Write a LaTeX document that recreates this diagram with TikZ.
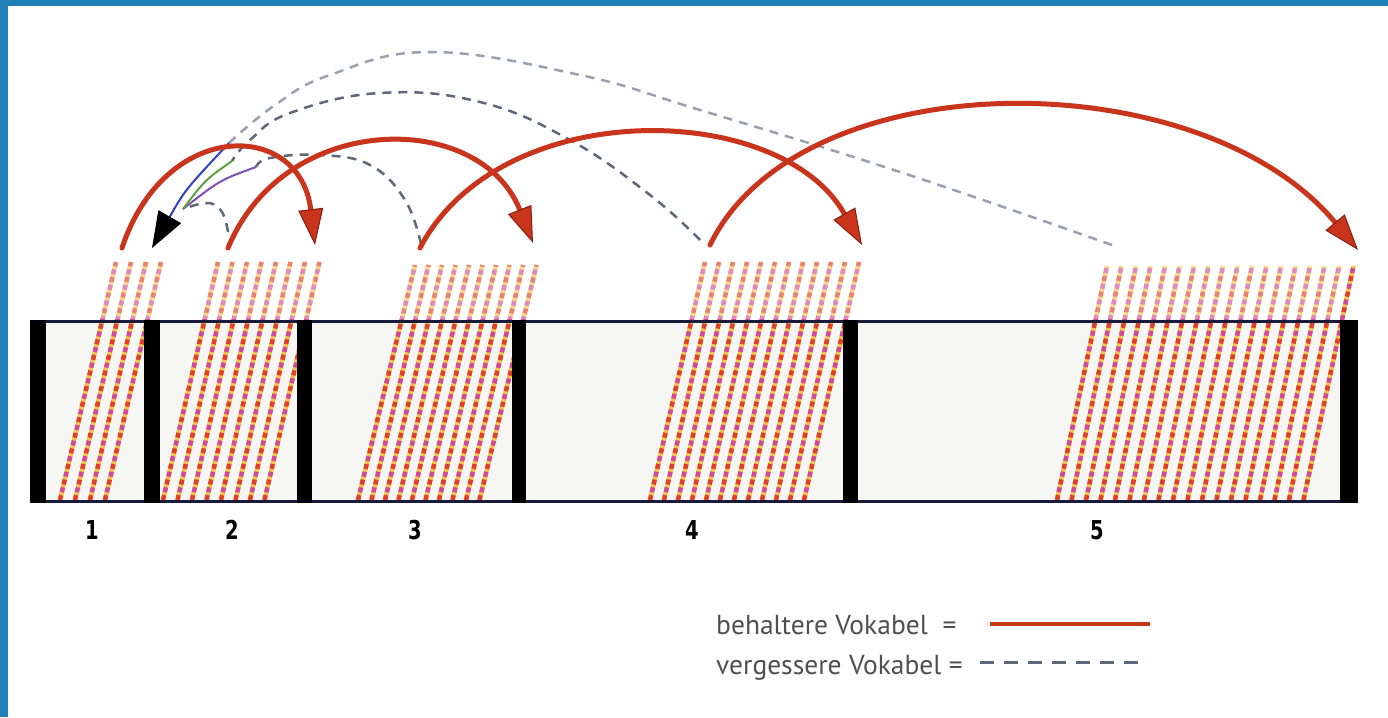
\documentclass[tikz,border=0pt]{standalone}
\usepackage{fontspec}
\setmainfont{PT Sans}
\newfontfamily\numfont{DejaVu Sans}[FakeStretch=0.75]
\usetikzlibrary{arrows.meta}
\definecolor{frameblue}{HTML}{1F80B8}
\definecolor{arrowred}{HTML}{C8341C}
\definecolor{arrowdark}{HTML}{8A2010}
\definecolor{hatchred}{HTML}{E0402A}
\definecolor{hatchmag}{HTML}{D24A96}
\definecolor{hatchyel}{HTML}{F3C44A}
\definecolor{dashgray}{HTML}{5E6878}
\definecolor{dashlight}{HTML}{9AA0AE}
\definecolor{boxline}{HTML}{1A1A3A}
\definecolor{boxfill}{HTML}{F6F6F4}
\definecolor{legtext}{HTML}{505050}
\definecolor{lineblue}{HTML}{3040C0}
\definecolor{linegreen}{HTML}{5FA040}
\definecolor{linepurple}{HTML}{8050B0}

\newcommand\hatchgroup[5]{%
  \foreach \i in {1,...,#3}{%
    \pgfmathsetmacro\xb{#1+(\i-1)*#2}%
    \draw[hy] (\xb,500) -- (\xb+#5,#4);
    \draw[hr] (\xb,500) -- (\xb+#5,#4);
    \draw[hm] (\xb,500) -- (\xb+#5,#4);
  }}

\begin{document}
\begin{tikzpicture}[x=1pt,y=-1pt,
  hy/.style={draw=hatchyel,line width=4.5pt},
  hr/.style={draw=hatchred,line width=4.5pt,dash pattern=on 5pt off 11pt},
  hm/.style={draw=hatchmag,line width=4.5pt,dash pattern=on 5pt off 11pt,dash phase=8pt},
  divider/.style={fill=black},
  boxedge/.style={draw=boxline,line width=3pt},
  redarc/.style={draw=arrowred,line width=5pt,line cap=round,
    -{Triangle[length=36pt,width=25pt,line width=1pt,color=arrowdark,fill=arrowred]}},
  backdash/.style={draw=dashgray,line width=2.5pt,dash pattern=on 9pt off 7pt},
  backlight/.style={draw=dashlight,line width=2.5pt,dash pattern=on 9pt off 7pt},
  thinline/.style={line width=2pt},
  blacktip/.style={-{Triangle[length=36pt,width=26pt,line width=1pt,black]}},
  numlab/.style={font=\numfont\bfseries\fontsize{26}{28}\selectfont,text=black},
  legend/.style={font=\fontsize{27.5}{30}\selectfont,text=legtext,anchor=west,inner sep=0pt},
  legred/.style={draw=arrowred,line width=4.5pt},
  legdash/.style={draw=dashgray,line width=3pt,dash pattern=on 14pt off 10pt}
]
\useasboundingbox (0,0) rectangle (1388,717);
\fill[white] (0,0) rectangle (1388,717);
% frame
\fill[frameblue] (0,0) rectangle (8,717);
\fill[frameblue] (0,0) rectangle (1388,6);

% box background
\fill[boxfill] (30,321) rectangle (1358,501);

% hatching
\hatchgroup{60}{15}{4}{262}{56}
\hatchgroup{163}{14.5}{8}{262}{55}
\hatchgroup{358}{13.5}{10}{265}{57}
\hatchgroup{650}{14}{12}{262}{55}
\hatchgroup{1057}{14.5}{18}{266}{50}
\fill[white,opacity=0.35] (46,255) rectangle (1340,319);

% box edges and dividers
\draw[boxedge] (30,321) -- (1358,321);
\draw[boxedge] (30,501) -- (1358,501);
\fill[divider] (30,320) rectangle (46,503);
\fill[divider] (144,320) rectangle (160,503);
\fill[divider] (297,320) rectangle (312,503);
\fill[divider] (512,320) rectangle (526,503);
\fill[divider] (843,320) rectangle (858,503);
\fill[divider] (1340,320) rectangle (1358,503);

% compartment labels
\node[numlab] (n1) at (92,530) {1};
\node[numlab] (n2) at (232,530) {2};
\node[numlab] (n3) at (415,530) {3};
\node[numlab] (n4) at (692,530) {4};
\node[numlab] (n5) at (1097,530) {5};

% coordinates
\coordinate (S1) at (122,248);
\coordinate (S2) at (228,248);
\coordinate (S3) at (420,248);
\coordinate (S4) at (710,245);
\coordinate (T2) at (315,245);
\coordinate (T3) at (533,243);
\coordinate (T4) at (862,245);
\coordinate (T5) at (1358,250);
\coordinate (D2) at (228,232);
\coordinate (D3) at (421,244);
\coordinate (D4) at (700,240);
\coordinate (D5) at (1112,245);
\coordinate (V3) at (256,167);
\coordinate (V4) at (232,161);
\coordinate (V5) at (229,143);
\coordinate (B) at (183,209);
\coordinate (T1) at (152,248);

% forgotten words (back to 1)
\draw[backlight] plot[smooth,tension=0.7] coordinates {(D5) (900,172) (700,110) (580,75) (430,52) (330,75) (275,105) (V5)};
\draw[backdash] plot[smooth,tension=0.7] coordinates {(D4) (650,195) (570,140) (480,102) (380,93) (290,113) (250,140) (V4)};
\draw[backdash] plot[smooth,tension=0.7] coordinates {(D3) (405,200) (370,165) (320,155) (270,158) (V3)};
\draw[backdash] plot[smooth,tension=0.7] coordinates {(D2) (222,212) (208,203) (B)};
\draw[thinline,draw=linepurple] (V3) .. controls (220,180) .. (B);
\draw[thinline,draw=linegreen] (V4) .. controls (205,180) .. (B);
\draw[thinline,draw=lineblue,blacktip] (V5) .. controls (185,190) .. (T1);

% kept words (forward)
\draw[redarc] (S1) .. controls (165,118) and (300,120) .. (T2);
\draw[redarc] (S2) .. controls (285,110) and (480,110) .. (T3);
\draw[redarc] (S3) .. controls (500,95) and (780,100) .. (T4);
\draw[redarc] (S4) .. controls (800,60) and (1200,60) .. (T5);

% legend
\node[legend] (lk) at (716,625) {behaltere Vokabel\ \ =};
\node[legend] (lv) at (716,668) {vergessere Vokabel\ =};
\coordinate (lk1) at (990,624);
\coordinate (lk2) at (1150,624);
\coordinate (lv1) at (980,662);
\coordinate (lv2) at (1143,662);
\draw[legred] (lk1) -- (lk2);
\draw[legdash] (lv1) -- (lv2);
\end{tikzpicture}
\end{document}
